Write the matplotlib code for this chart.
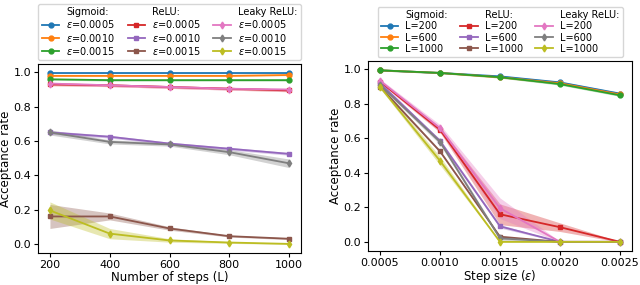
import matplotlib.pyplot as plt
from matplotlib.lines import Line2D
import numpy as np

# Left panel: acceptance rate vs number of steps, one line per step size
steps = [200, 400, 600, 800, 1000]
eps_labels = ["0.0005", "0.0010", "0.0015"]

sig_vs_L = [[0.995, 0.995, 0.995, 0.995, 0.995],
            [0.98, 0.98, 0.98, 0.98, 0.985],
            [0.96, 0.955, 0.955, 0.955, 0.955]]
sig_vs_L_sd = [[0.004, 0.004, 0.004, 0.004, 0.004],
               [0.004, 0.004, 0.004, 0.004, 0.004],
               [0.005, 0.005, 0.005, 0.005, 0.005]]
relu_vs_L = [[0.93, 0.925, 0.915, 0.905, 0.895],
             [0.65, 0.625, 0.585, 0.555, 0.525],
             [0.16, 0.16, 0.09, 0.045, 0.03]]
relu_vs_L_sd = [[0.008, 0.008, 0.008, 0.008, 0.008],
                [0.01, 0.008, 0.008, 0.008, 0.008],
                [0.07, 0.02, 0.01, 0.005, 0.005]]
leaky_vs_L = [[0.935, 0.925, 0.915, 0.905, 0.90],
              [0.65, 0.595, 0.58, 0.535, 0.47],
              [0.195, 0.06, 0.02, 0.008, 0.0]]
leaky_vs_L_sd = [[0.008, 0.008, 0.008, 0.008, 0.008],
                 [0.015, 0.012, 0.01, 0.015, 0.025],
                 [0.05, 0.03, 0.01, 0.005, 0.003]]

# Right panel: acceptance rate vs step size, one line per number of steps
step_sizes = [0.0005, 0.0010, 0.0015, 0.0020, 0.0025]
L_labels = ["200", "600", "1000"]

sig_vs_eps = [[0.995, 0.98, 0.96, 0.925, 0.86],
              [0.995, 0.98, 0.955, 0.92, 0.855],
              [0.995, 0.98, 0.955, 0.915, 0.85]]
sig_vs_eps_sd = [[0.004, 0.004, 0.005, 0.006, 0.006],
                 [0.004, 0.004, 0.005, 0.006, 0.006],
                 [0.004, 0.004, 0.005, 0.006, 0.006]]
relu_vs_eps = [[0.93, 0.65, 0.16, 0.085, 0.0],
               [0.92, 0.585, 0.09, 0.0, 0.0],
               [0.90, 0.525, 0.03, 0.0, 0.0]]
relu_vs_eps_sd = [[0.008, 0.015, 0.06, 0.025, 0.002],
                  [0.008, 0.01, 0.01, 0.002, 0.002],
                  [0.008, 0.008, 0.005, 0.002, 0.002]]
leaky_vs_eps = [[0.935, 0.66, 0.195, 0.0, 0.0],
                [0.91, 0.58, 0.02, 0.0, 0.0],
                [0.90, 0.47, 0.0, 0.0, 0.0]]
leaky_vs_eps_sd = [[0.01, 0.02, 0.06, 0.002, 0.002],
                   [0.01, 0.015, 0.01, 0.002, 0.002],
                   [0.01, 0.025, 0.003, 0.002, 0.002]]

groups = ["Sigmoid:", "ReLU:", "Leaky ReLU:"]
markers = ["o", "s", "d"]
colors = [["tab:blue", "tab:orange", "tab:green"],
          ["tab:red", "tab:purple", "tab:brown"],
          ["tab:pink", "tab:gray", "tab:olive"]]


def panel(ax, x, series, sds, labels, prefix):
    handles = []
    for g, (vals, sd) in enumerate(zip(series, sds)):
        handles.append(Line2D([], [], linestyle="none", marker="none", label=groups[g]))
        for k in range(3):
            y = np.array(vals[k])
            s = np.array(sd[k])
            c = colors[g][k]
            ax.fill_between(x, y - s, y + s, color=c, alpha=0.35, linewidth=0)
            h, = ax.plot(x, y, color=c, marker=markers[g], markersize=3.5,
                         linewidth=1.3, label=prefix + labels[k])
            handles.append(h)
    ax.set_ylabel("Acceptance rate", fontsize=8.5, labelpad=1)
    ax.tick_params(labelsize=8, length=3, pad=2)
    ax.set_yticks([0.0, 0.2, 0.4, 0.6, 0.8, 1.0])
    ax.legend(handles=handles, ncol=3, loc="lower center",
              bbox_to_anchor=(0.5, 1.0), fontsize=7, handlelength=1.8,
              handletextpad=0.7, columnspacing=1.3, labelspacing=0.12,
              borderpad=0.35, borderaxespad=0.4)


fig = plt.figure(figsize=(6.4, 2.85), dpi=100)
ax1 = fig.add_axes([38 / 640, 1 - 253 / 285, 263 / 640, 189 / 285])
ax2 = fig.add_axes([368 / 640, 1 - 251 / 285, 264 / 640, 190 / 285])

panel(ax1, steps, [sig_vs_L, relu_vs_L, leaky_vs_L],
      [sig_vs_L_sd, relu_vs_L_sd, leaky_vs_L_sd], eps_labels, r"$\epsilon$=")
ax1.set_xlabel("Number of steps (L)", fontsize=8.5, labelpad=0.5)
ax1.set_xticks(steps)

panel(ax2, step_sizes, [sig_vs_eps, relu_vs_eps, leaky_vs_eps],
      [sig_vs_eps_sd, relu_vs_eps_sd, leaky_vs_eps_sd], L_labels, "L=")
ax2.set_xlabel(r"Step size ($\epsilon$)", fontsize=8.5, labelpad=0)
ax2.set_xticks(step_sizes)
ax2.set_xticklabels(["%.4f" % v for v in step_sizes])

fig.savefig("out.png", dpi=100)
